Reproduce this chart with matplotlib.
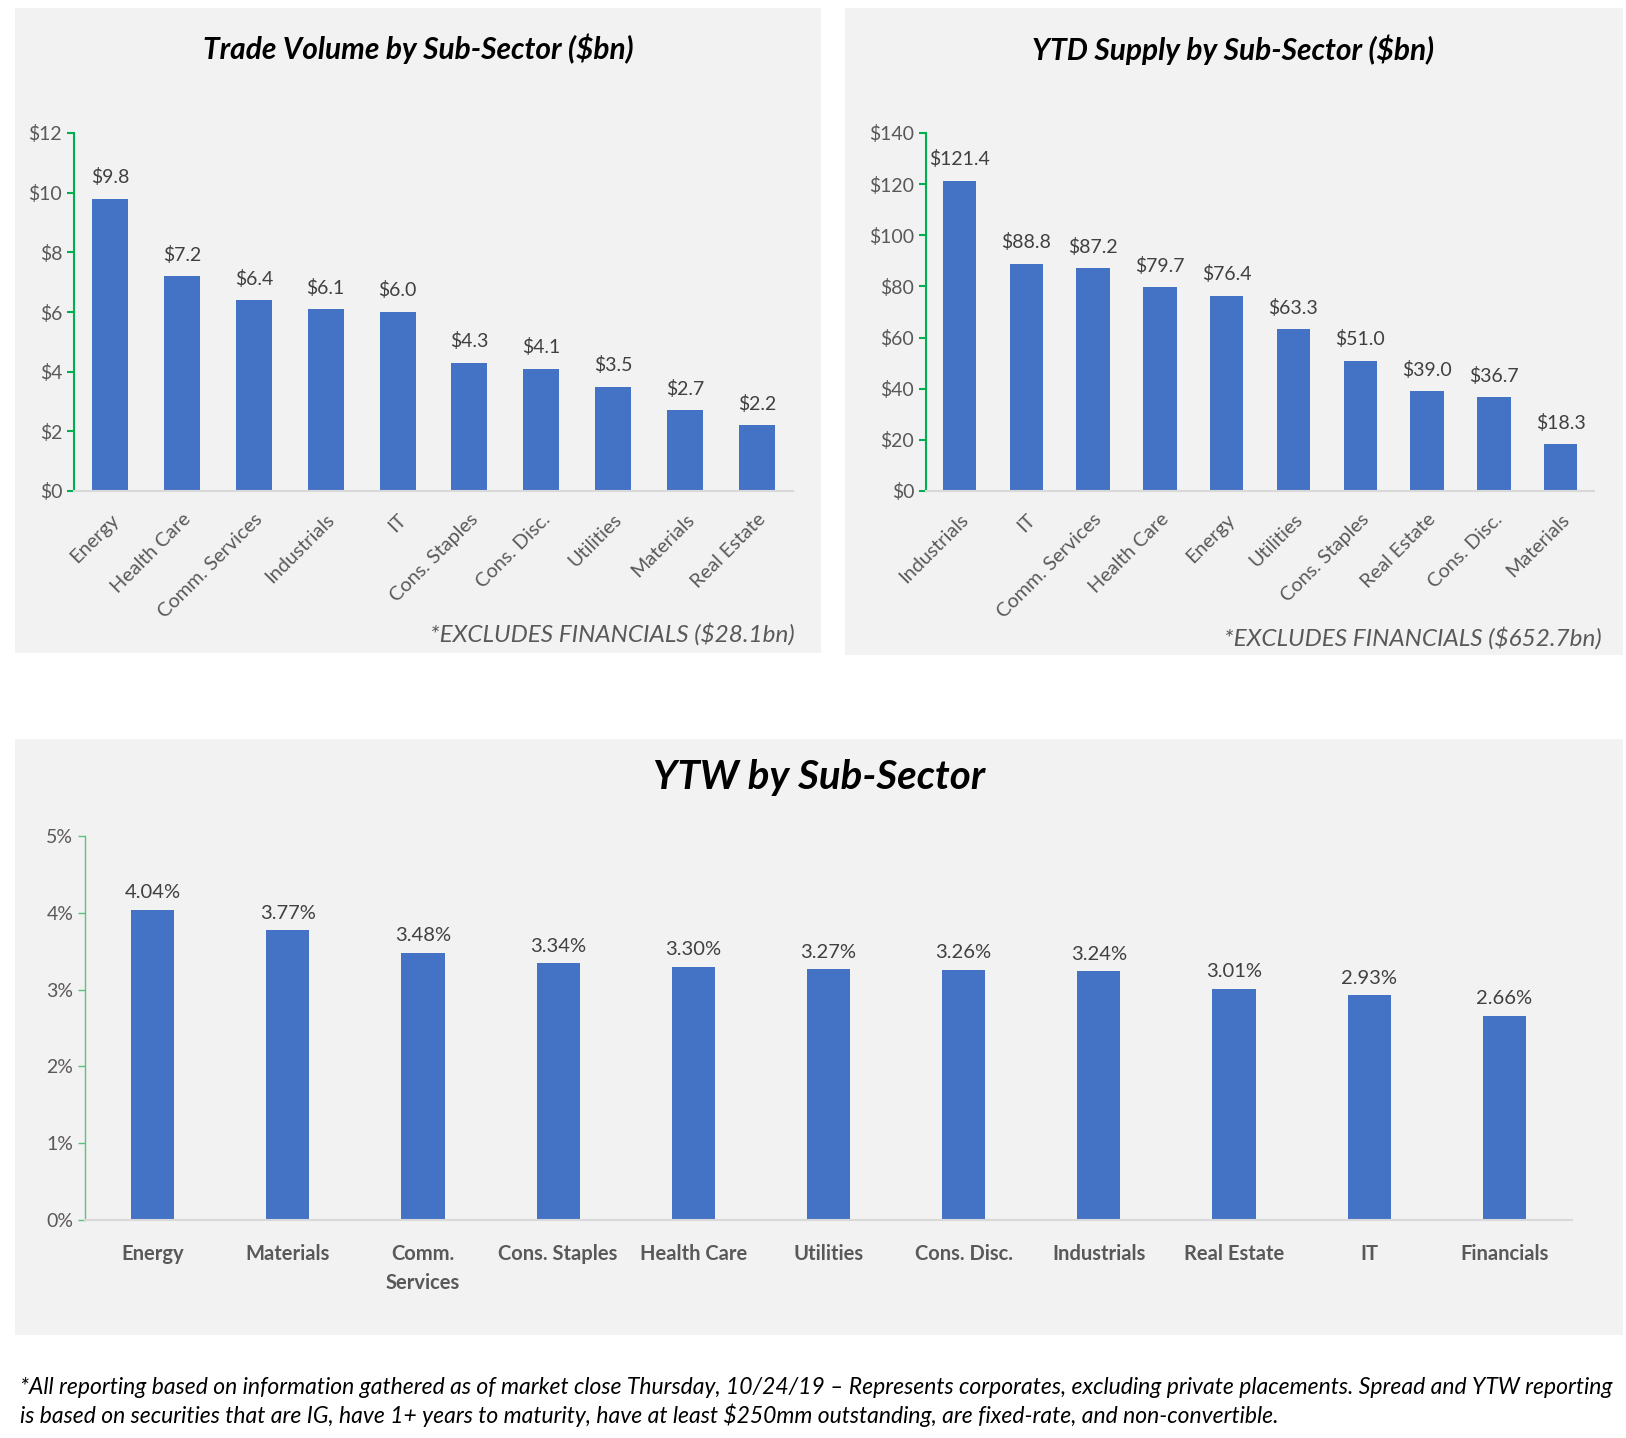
import matplotlib
matplotlib.use('Agg')
import matplotlib.pyplot as plt
from matplotlib.patches import Rectangle

plt.rcParams['font.family'] = ['Lato', 'DejaVu Sans']

##### data #####
trade_sectors = ['Energy', 'Health Care', 'Comm. Services', 'Industrials', 'IT',
                 'Cons. Staples', 'Cons. Disc.', 'Utilities', 'Materials', 'Real Estate']
trade_values = [9.8, 7.2, 6.4, 6.1, 6.0, 4.3, 4.1, 3.5, 2.7, 2.2]
trade_ticks = [0, 2, 4, 6, 8, 10, 12]

supply_sectors = ['Industrials', 'IT', 'Comm. Services', 'Health Care', 'Energy',
                  'Utilities', 'Cons. Staples', 'Real Estate', 'Cons. Disc.', 'Materials']
supply_values = [121.4, 88.8, 87.2, 79.7, 76.4, 63.3, 51.0, 39.0, 36.7, 18.3]
supply_ticks = [0, 20, 40, 60, 80, 100, 120, 140]

ytw_sectors = ['Energy', 'Materials', 'Comm.\nServices', 'Cons. Staples', 'Health Care',
               'Utilities', 'Cons. Disc.', 'Industrials', 'Real Estate', 'IT', 'Financials']
ytw_values = [4.04, 3.77, 3.48, 3.34, 3.30, 3.27, 3.26, 3.24, 3.01, 2.93, 2.66]
ytw_ticks = [0, 1, 2, 3, 4, 5]

##### layout helpers (pixel boxes) #####
W, H = 1626, 1438
BLUE = '#4472C4'
PANEL = '#F2F2F2'
GREY = '#595959'

fig = plt.figure(figsize=(W / 100, H / 100), dpi=100)
fig.patch.set_facecolor('white')

def box(l, t, r, b):
    return [l / W, 1 - b / H, (r - l) / W, (b - t) / H]

def panel(l, t, r, b):
    fig.patches.append(Rectangle((l / W, 1 - b / H), (r - l) / W, (b - t) / H,
                                 transform=fig.transFigure, facecolor=PANEL,
                                 edgecolor='none', zorder=-10))

def style_axes(ax, green='#00B050', lw=1.5):
    ax.set_facecolor('none')
    for s in ['top', 'right']:
        ax.spines[s].set_visible(False)
    ax.spines['left'].set_color(green)
    ax.spines['left'].set_linewidth(lw)
    ax.spines['bottom'].set_color('#D9D9D9')
    ax.spines['bottom'].set_linewidth(1.5)
    ax.tick_params(axis='y', colors=green, length=5, width=lw, labelcolor=GREY, labelsize=14)
    ax.tick_params(axis='x', length=0, labelcolor=GREY)

panel(15, 8, 821, 653)
panel(845, 8, 1623, 655)
panel(15, 739, 1623, 1335)

##### trade volume #####
ax1 = fig.add_axes(box(74, 133, 793, 491))
style_axes(ax1)
b1 = ax1.bar(range(len(trade_values)), trade_values, width=0.5, color=BLUE)
ax1.bar_label(b1, labels=['${:.1f}'.format(v) for v in trade_values],
              padding=9, fontsize=14, color='#404040')
ax1.set_xlim(-0.5, len(trade_values) - 0.5)
ax1.set_ylim(0, 12)
ax1.set_yticks(trade_ticks)
ax1.set_yticklabels(['${}'.format(t) for t in trade_ticks])
ax1.set_xticks(range(len(trade_sectors)))
ax1.set_xticklabels(trade_sectors, rotation=45, ha='right', rotation_mode='anchor', fontsize=14.3)
ax1.tick_params(axis='x', pad=14)
fig.text(418 / W, 1 - 49 / H, 'Trade Volume by Sub-Sector ($bn)', ha='center', va='center',
         fontsize=21.5, fontweight='bold', fontstyle='italic', color='black')
fig.text(795 / W, 1 - 634 / H, '*EXCLUDES FINANCIALS ($28.1bn)', ha='right', va='center',
         fontsize=17.5, fontstyle='italic', color=GREY)

##### ytd supply #####
ax2 = fig.add_axes(box(926, 133, 1594, 491))
style_axes(ax2)
b2 = ax2.bar(range(len(supply_values)), supply_values, width=0.5, color=BLUE)
ax2.bar_label(b2, labels=['${:.1f}'.format(v) for v in supply_values],
              padding=9, fontsize=14, color='#404040')
ax2.set_xlim(-0.5, len(supply_values) - 0.5)
ax2.set_ylim(0, 140)
ax2.set_yticks(supply_ticks)
ax2.set_yticklabels(['${}'.format(t) for t in supply_ticks])
ax2.set_xticks(range(len(supply_sectors)))
ax2.set_xticklabels(supply_sectors, rotation=45, ha='right', rotation_mode='anchor', fontsize=14.3)
ax2.tick_params(axis='x', pad=14)
fig.text(1233 / W, 1 - 50 / H, 'YTD Supply by Sub-Sector ($bn)', ha='center', va='center',
         fontsize=21.5, fontweight='bold', fontstyle='italic', color='black')
fig.text(1602 / W, 1 - 638 / H, '*EXCLUDES FINANCIALS ($652.7bn)', ha='right', va='center',
         fontsize=17.5, fontstyle='italic', color=GREY)

##### ytw #####
ax3 = fig.add_axes(box(85, 836, 1572, 1220))
style_axes(ax3, green='#5CC27A', lw=1.0)
b3 = ax3.bar(range(len(ytw_values)), ytw_values, width=0.32, color=BLUE)
ax3.bar_label(b3, labels=['{:.2f}%'.format(v) for v in ytw_values],
              padding=6, fontsize=14.5, color='#404040')
ax3.set_xlim(-0.5, len(ytw_values) - 0.5)
ax3.set_ylim(0, 5)
ax3.set_yticks(ytw_ticks)
ax3.set_yticklabels(['{}%'.format(t) for t in ytw_ticks])
ax3.set_xticks(range(len(ytw_sectors)))
ax3.set_xticklabels(ytw_sectors, fontsize=14.5, fontweight='bold', linespacing=1.6)
ax3.tick_params(axis='x', pad=17)
fig.text(819 / W, 1 - 778 / H, 'YTW by Sub-Sector', ha='center', va='center',
         fontsize=29, fontweight='bold', fontstyle='italic', color='black')

##### footnote #####
fig.text(20 / W, 1 - 1388 / H,
         '*All reporting based on information gathered as of market close Thursday, 10/24/19 \u2013 '
         'Represents corporates, excluding private placements. Spread and YTW reporting',
         ha='left', va='center', fontsize=16.5, fontstyle='italic', color='black')
fig.text(20 / W, 1 - 1415 / H,
         'is based on securities that are IG, have 1+ years to maturity, have at least $250mm '
         'outstanding, are fixed-rate, and non-convertible.',
         ha='left', va='center', fontsize=16.5, fontstyle='italic', color='black')

fig.savefig('out.png', dpi=100)
